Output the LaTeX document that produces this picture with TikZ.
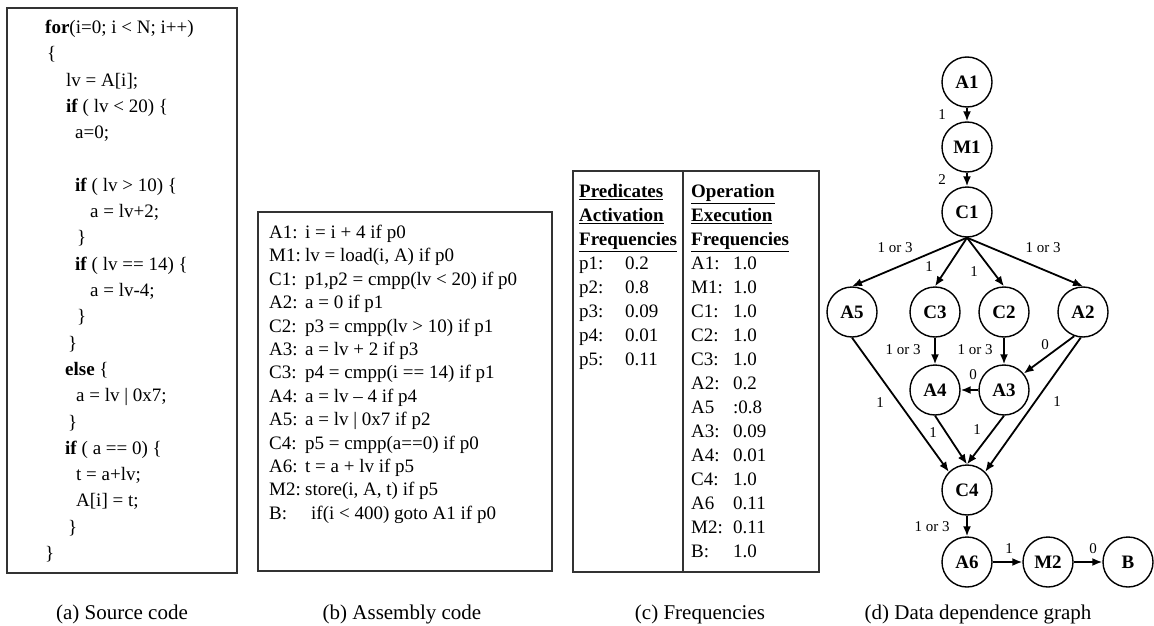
\documentclass[tikz,border=0pt]{standalone}
\usepackage{fontspec}
\setmainfont{Liberation Serif}
\usetikzlibrary{arrows.meta}
\tikzset{
  op/.style={circle,draw,line width=1.4pt,minimum size=50pt,inner sep=0pt,font=\fontsize{19}{19}\selectfont\bfseries},
  dep/.style={-{Latex[length=10pt,width=8pt]},line width=1.8pt},
  wt/.style={font=\fontsize{15}{15}\selectfont,inner sep=0pt},
  panelbox/.style={draw=black!80,line width=1.3pt},
  txt/.style={anchor=base west,inner sep=0pt,font=\fontsize{19}{19}\selectfont},
  capt/.style={font=\fontsize{21}{21}\selectfont,inner sep=0pt}
}
\begin{document}
\begin{tikzpicture}[x=1pt,y=-1pt]
\useasboundingbox(0,0)rectangle(1154,626);
% (a) source code
\draw[panelbox](7,8)rectangle(237,573);
\foreach \x/\k/\ct in {45/0/{\textbf{for}(i=0; i < N; i++)},47/1/\{,66/2/{lv = A[i];},66/3/{\textbf{if} ( lv < 20) \{},75/4/{a=0;},
  75/6/{\textbf{if} ( lv > 10) \{},90/7/{a = lv+2;},77/8/\},75/9/{\textbf{if} ( lv == 14) \{},90/10/{a = lv-4;},77/11/\},68/12/\},
  65/13/{\textbf{else} \{},76/14/{a = lv | 0x7;},68/15/\},65/16/{\textbf{if} ( a == 0) \{},76/17/{t = a+lv;},76/18/{A[i] = t;},68/19/\},45/20/\}}
  \node[txt](src\k)at(\x,{33.5+26.3*\k}){\ct};
\node[capt](capa)at(122,614){(a) Source code};
% (b) assembly code
\draw[panelbox](258,212)rectangle(552,571);
\foreach \lb/\ct [count=\k from 0] in {A1:/{i = i + 4 if p0},M1:/{lv = load(i, A) if p0},C1:/{p1,p2 = cmpp(lv < 20) if p0},
  A2:/{a = 0 if p1},C2:/{p3 = cmpp(lv > 10) if p1},A3:/{a = lv + 2 if p3},C3:/{p4 = cmpp(i == 14) if p1},A4:/{a = lv -- 4 if p4},
  A5:/{a = lv | 0x7 if p2},C4:/{p5 = cmpp(a==0) if p0},A6:/{t = a + lv if p5},M2:/{store(i, A, t) if p5}}
  {\node[txt](asml\k)at(269,{238.5+23.4*\k}){\lb};\node[txt](asmb\k)at(305,{238.5+23.4*\k}){\ct};}
\node[txt](asmlB)at(269,519.3){B:};\node[txt](asmbB)at(311,519.3){if(i < 400) goto A1 if p0};
\node[capt](capb)at(402,614){(b) Assembly code};
% (c) frequencies
\draw[panelbox](573,171)rectangle(819,572);
\draw[panelbox](683,171)--(683,572);
\foreach \h/\g [count=\k from 0] in {Predicates/Operation,Activation/Execution,Frequencies/Frequencies}
  {\node[txt](hl\k)at(579,{197.5+24*\k}){\underline{\textbf{\h}}};\node[txt](hr\k)at(691,{197.5+24*\k}){\underline{\textbf{\g}}};}
\foreach \p/\v [count=\k from 0] in {p1:/0.2,p2:/0.8,p3:/0.09,p4:/0.01,p5:/0.11}
  {\node[txt](pl\k)at(579,{269.5+24*\k}){\p};\node[txt](pv\k)at(625,{269.5+24*\k}){\v};}
\foreach \p/\v [count=\k from 0] in {A1:/1.0,M1:/1.0,C1:/1.0,C2:/1.0,C3:/1.0,A2:/0.2,A5/:0.8,A3:/0.09,A4:/0.01,C4:/1.0,A6/0.11,M2:/0.11,B:/1.0}
  {\node[txt](ol\k)at(691,{269.5+24*\k}){\p};\node[txt](ov\k)at(733,{269.5+24*\k}){\v};}
\node[capt](capc)at(700,614){(c) Frequencies};
% (d) data dependence graph
\node[op](A1)at(967,82){A1};\node[op](M1)at(967,147){M1};\node[op](C1)at(967,212){C1};
\node[op](A5)at(852,312){A5};\node[op](C3)at(935,312){C3};\node[op](C2)at(1004,312){C2};\node[op](A2)at(1083,312){A2};
\node[op](A4)at(935,390){A4};\node[op](A3)at(1004,390){A3};
\node[op](C4)at(967,490){C4};\node[op](A6)at(967,562){A6};\node[op](M2)at(1048,562){M2};\node[op](B)at(1128,562){B};
\draw[dep](A1)--(M1);\draw[dep](M1)--(C1);
\foreach \n in {A5,C3,C2,A2}\draw[dep](C1.south)--(\n.north);
\draw[dep](C3)--(A4);\draw[dep](C2)--(A3);\draw[dep](A2.250)--(A3.40);\draw[dep](A3)--(A4);
\draw[dep](A5.south)--(C4.north west);\draw[dep](A4.south)--(C4.north);\draw[dep](A3.south)--(C4.north);
\draw[dep](A2.265)--(C4.north east);
\draw[dep](C4)--(A6);\draw[dep](A6)--(M2);\draw[dep](M2)--(B);
\node[wt](w1)at(942,115){1};\node[wt](w2)at(942,180){2};
\node[wt](w3)at(895,248){1 or 3};\node[wt](w4)at(929,267){1};\node[wt](w5)at(974,272){1};\node[wt](w6)at(1043,248){1 or 3};
\node[wt](w7)at(903,350){1 or 3};\node[wt](w8)at(975,350){1 or 3};\node[wt](w9)at(1045,345){0};\node[wt](w10)at(973,375){0};
\node[wt](w11)at(880,403){1};\node[wt](w12)at(933,433){1};\node[wt](w13)at(977,430){1};\node[wt](w14)at(1057,402){1};
\node[wt](w15)at(932,527){1 or 3};\node[wt](w16)at(1009,549){1};\node[wt](w17)at(1093,549){0};
\node[capt](capd)at(978,614){(d) Data dependence graph};
\end{tikzpicture}
\end{document}
